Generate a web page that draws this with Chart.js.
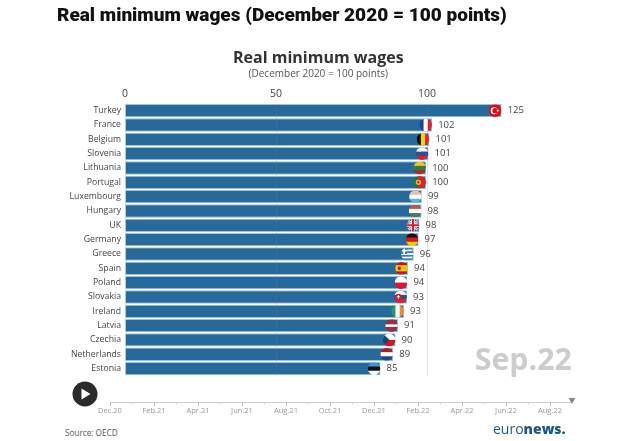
<!DOCTYPE html>
<html>
<head>
<meta charset="utf-8">
<title>Real minimum wages</title>
<script src="https://cdn.jsdelivr.net/npm/chart.js@4"></script>
<style>
  html, body { margin: 0; padding: 0; background: #fff; }
  body { width: 624px; height: 441px; position: relative; overflow: hidden; font-family: "Open Sans", sans-serif; }
  canvas { position: absolute; left: 0; }
  .txt { position: absolute; white-space: nowrap; }
  #heading { left: 57px; top: 3px; font: 900 19px/24px Roboto, sans-serif; color: #111; }
  #period { right: 52px; top: 338px; font: 700 30.4px/42px "Open Sans", sans-serif; color: #ccc; }
  #source { left: 65px; top: 426px; font: 8.2px/13px "Open Sans", sans-serif; color: #555; }
  #logo { left: 493px; top: 418px; font: 400 14px/22px "Open Sans", sans-serif; color: #1c5a86; }
  #logo b { font-weight: 800; }
  #play { position: absolute; left: 72px; top: 381px; }
</style>
</head>
<body>
<canvas id="wages" width="624" height="385" style="top:0"></canvas>
<canvas id="timeline" width="624" height="35" style="top:390px"></canvas>
<div class="txt" id="heading">Real minimum wages (December 2020 = 100 points)</div>
<div class="txt" id="period">Sep.22</div>
<div class="txt" id="source">Source: OECD</div>
<div class="txt" id="logo">euro<b>news.</b></div>
<svg id="play" width="26" height="26"><circle cx="13" cy="13" r="12.5" fill="#2b2b2b"/><path d="M9.5 7.5 L18.5 13 L9.5 18.5 Z" fill="#fff"/></svg>
<script>
const countries = ["Turkey", "France", "Belgium", "Slovenia", "Lithuania", "Portugal", "Luxembourg", "Hungary", "UK", "Germany", "Greece", "Spain", "Poland", "Slovakia", "Ireland", "Latvia", "Czechia", "Netherlands", "Estonia"];
const wages = [124.7, 101.7, 100.8, 100.5, 99.7, 99.7, 98.3, 98.2, 97.5, 97.2, 95.6, 93.7, 93.5, 93.4, 92.4, 90.4, 89.6, 88.8, 84.6];
const wageLabels = [125, 102, 101, 101, 100, 100, 99, 98, 98, 97, 96, 94, 94, 93, 93, 91, 90, 89, 85];
const axisTicks = [0, 50, 100];
const months = ["Dec.20", "Jan.21", "Feb.21", "Mar.21", "Apr.21", "May.21", "Jun.21", "Jul.21", "Aug.21", "Sep.21", "Oct.21", "Nov.21", "Dec.21", "Jan.22", "Feb.22", "Mar.22", "Apr.22", "May.22", "Jun.22", "Jul.22", "Aug.22", "Sep.22"];
const sliderPosition = [null, null, null, null, null, null, null, null, null, null, null, null, null, null, null, null, null, null, null, null, null, 0.25];

// flag colours: direction of the stripes, then the stripes themselves
const flags = {
  Turkey: ["h", ["#e30a17"]],
  France: ["v", ["#1f3f94", "#fff", "#e1202e"]],
  Belgium: ["v", ["#111", "#f7d117", "#e8262e"]],
  Slovenia: ["h", ["#fff", "#2650a6", "#e1202e"]],
  Lithuania: ["h", ["#f5c518", "#2e7d4f", "#b5262b"]],
  Portugal: ["v", ["#1e7a35", "#1e7a35", "#e5201f", "#e5201f", "#e5201f"]],
  Luxembourg: ["h", ["#f0b8b8", "#fff", "#59b7e8"]],
  Hungary: ["h", ["#cf4a55", "#fff", "#4b7a5c"]],
  UK: ["h", ["#fff"]],
  Germany: ["h", ["#111", "#d8141c", "#f7ce00"]],
  Greece: ["h", ["#3d7cc0", "#fff", "#3d7cc0", "#fff", "#3d7cc0", "#fff", "#3d7cc0"]],
  Spain: ["h", ["#c8161d", "#f7c40c", "#f7c40c", "#c8161d"]],
  Poland: ["h", ["#fff", "#dc143c"]],
  Slovakia: ["h", ["#fff", "#1f4fa3", "#e1202e"]],
  Ireland: ["v", ["#2a9a5c", "#fff", "#f08a32"]],
  Latvia: ["h", ["#9e3039", "#9e3039", "#fff", "#9e3039", "#9e3039"]],
  Czechia: ["h", ["#fff", "#d7141a"]],
  Netherlands: ["h", ["#ae1c28", "#fff", "#21468b"]],
  Estonia: ["h", ["#4a90d9", "#111", "#fff"]]
};

function flagExtras(ctx, name, r) {
  if (name === "Turkey") {
    ctx.fillStyle = "#fff";
    ctx.beginPath(); ctx.arc(-1, 0, r * 0.55, 0, 7); ctx.fill();
    ctx.fillStyle = "#e30a17";
    ctx.beginPath(); ctx.arc(0, 0, r * 0.43, 0, 7); ctx.fill();
    ctx.fillStyle = "#fff";
    ctx.beginPath(); ctx.arc(2.6, 0, 1.1, 0, 7); ctx.fill();
  } else if (name === "UK") {
    ctx.fillStyle = "#1f3f8f"; ctx.fillRect(-r, -r, 2 * r, 2 * r);
    ctx.strokeStyle = "#fff"; ctx.lineWidth = 2.4;
    ctx.beginPath(); ctx.moveTo(-r, -r); ctx.lineTo(r, r); ctx.moveTo(r, -r); ctx.lineTo(-r, r); ctx.stroke();
    ctx.strokeStyle = "#d0202e"; ctx.lineWidth = 0.9; ctx.stroke();
    ctx.strokeStyle = "#fff"; ctx.lineWidth = 3.6;
    ctx.beginPath(); ctx.moveTo(0, -r); ctx.lineTo(0, r); ctx.moveTo(-r, 0); ctx.lineTo(r, 0); ctx.stroke();
    ctx.strokeStyle = "#d0202e"; ctx.lineWidth = 2; ctx.stroke();
  } else if (name === "Greece") {
    ctx.fillStyle = "#3d7cc0"; ctx.fillRect(-r, -r, r, r);
    ctx.fillStyle = "#fff"; ctx.fillRect(-r, -r / 2 - 1, r, 1.6); ctx.fillRect(-r / 2 - 0.8, -r, 1.6, r);
  } else if (name === "Portugal") {
    ctx.fillStyle = "#f0c23a";
    ctx.beginPath(); ctx.arc(-r * 0.2, 0, 2.6, 0, 7); ctx.fill();
    ctx.fillStyle = "#c9302c";
    ctx.beginPath(); ctx.arc(-r * 0.2, 0, 1.3, 0, 7); ctx.fill();
  } else if (name === "Spain") {
    ctx.fillStyle = "#9c2a1e"; ctx.fillRect(-r * 0.55, -1.6, 2.6, 3.2);
  } else if (name === "Slovakia") {
    ctx.fillStyle = "#d5202c";
    ctx.beginPath(); ctx.arc(-r * 0.35, 0, 3.2, 0, 7); ctx.fill();
    ctx.fillStyle = "#fff"; ctx.fillRect(-r * 0.35 - 0.5, -2, 1, 3.6); ctx.fillRect(-r * 0.35 - 1.5, -0.8, 3, 0.9);
  } else if (name === "Czechia") {
    ctx.fillStyle = "#11457e";
    ctx.beginPath(); ctx.moveTo(-r, -r); ctx.lineTo(0.5, 0); ctx.lineTo(-r, r); ctx.fill();
  } else if (name === "Slovenia") {
    ctx.fillStyle = "#e8eef7"; ctx.fillRect(-r * 0.6, -r * 0.75, 2.6, 2.6);
  }
}

const barExtras = {
  id: "barExtras",
  afterDraw(chart) {
    const ctx = chart.ctx;
    const bars = chart.getDatasetMeta(0).data;
    bars.forEach((bar, i) => {
      const name = countries[i];
      const r = 6.3;
      ctx.save();
      ctx.fillStyle = "#444";
      ctx.font = '9.5px "Open Sans"';
      ctx.textBaseline = "middle";
      ctx.fillText(wageLabels[i], bar.x + 6, bar.y);
      ctx.translate(bar.x - 6.5, bar.y);
      ctx.beginPath(); ctx.arc(0, 0, r, 0, 7); ctx.clip();
      const dir = flags[name][0], stripes = flags[name][1];
      const step = 2 * r / stripes.length;
      stripes.forEach((c, k) => {
        ctx.fillStyle = c;
        if (dir === "h") ctx.fillRect(-r, -r + k * step, 2 * r, step + 0.3);
        else ctx.fillRect(-r + k * step, -r, step + 0.3, 2 * r);
      });
      flagExtras(ctx, name, r);
      ctx.restore();
    });
  }
};

new Chart(document.getElementById("wages"), {
  type: "bar",
  data: {
    labels: countries,
    datasets: [{
      data: wages,
      backgroundColor: "#26699a",
      borderColor: "#9fc3d8",
      borderWidth: 1,
      categoryPercentage: 1,
      barPercentage: 0.93
    }]
  },
  options: {
    indexAxis: "y",
    responsive: false,
    animation: false,
    layout: { padding: { left: 0, right: 112.4, top: 0, bottom: 0 } },
    plugins: {
      legend: { display: false },
      tooltip: { enabled: false },
      title: {
        display: true,
        text: "Real minimum wages",
        fullSize: false,
        color: "#333",
        font: { family: "Open Sans", size: 16, weight: "700" },
        padding: { top: 49, bottom: 0 }
      },
      subtitle: {
        display: true,
        text: "(December 2020 = 100 points)",
        fullSize: false,
        color: "#555",
        font: { family: "Open Sans", size: 10 },
        padding: { top: 0, bottom: 0 }
      }
    },
    scales: {
      x: {
        position: "top",
        min: 0,
        max: 128,
        afterBuildTicks: (s) => { s.ticks = axisTicks.map((v) => ({ value: v })); },
        afterFit: (s) => { s.height = 23.3; },
        border: { display: false },
        grid: { color: "rgba(120,130,140,0.22)", drawTicks: false, z: 1 },
        ticks: { color: "#444", font: { family: "Open Sans", size: 10.5 }, padding: 3, maxRotation: 0 }
      },
      y: {
        afterFit: (s) => { s.width = 125; },
        border: { display: false },
        grid: { display: false, drawTicks: false },
        ticks: { color: "#444", font: { family: "Open Sans", size: 8.7 }, padding: 4, autoSkip: false }
      }
    }
  },
  plugins: [barExtras]
});

const minorTicks = {
  id: "minorTicks",
  afterDraw(chart) {
    const ctx = chart.ctx, x = chart.scales.x, y0 = chart.chartArea.bottom;
    ctx.save();
    ctx.strokeStyle = "#ccc";
    months.forEach((m, i) => {
      if (i % 2 === 0) return;
      const px = Math.round(x.getPixelForValue(i)) + 0.5;
      ctx.beginPath(); ctx.moveTo(px, y0); ctx.lineTo(px, y0 + 2); ctx.stroke();
    });
    ctx.restore();
  }
};

new Chart(document.getElementById("timeline"), {
  type: "line",
  data: {
    labels: months,
    datasets: [{
      data: sliderPosition,
      showLine: false,
      clip: false,
      pointStyle: "triangle",
      rotation: 180,
      radius: 4,
      backgroundColor: "#888",
      borderColor: "#888",
      borderWidth: 0
    }]
  },
  options: {
    responsive: false,
    animation: false,
    layout: { padding: { left: 110, right: 52, top: 0, bottom: 0 } },
    plugins: { legend: { display: false }, tooltip: { enabled: false } },
    scales: {
      x: {
        offset: false,
        afterFit: (s) => { s.height = 23; },
        border: { color: "#ccc" },
        grid: {
          drawOnChartArea: false,
          tickLength: 4,
          tickColor: (c) => (c.index % 2 === 0 ? "#bbb" : "rgba(0,0,0,0)")
        },
        ticks: {
          color: "#999",
          font: { family: "Open Sans", size: 7.5 },
          padding: 0,
          autoSkip: false,
          maxRotation: 0,
          callback: (v, i) => (i % 2 === 0 ? months[i] : "")
        }
      },
      y: { display: false, min: 0, max: 1 }
    }
  },
  plugins: [minorTicks]
});
</script>
</body>
</html>
